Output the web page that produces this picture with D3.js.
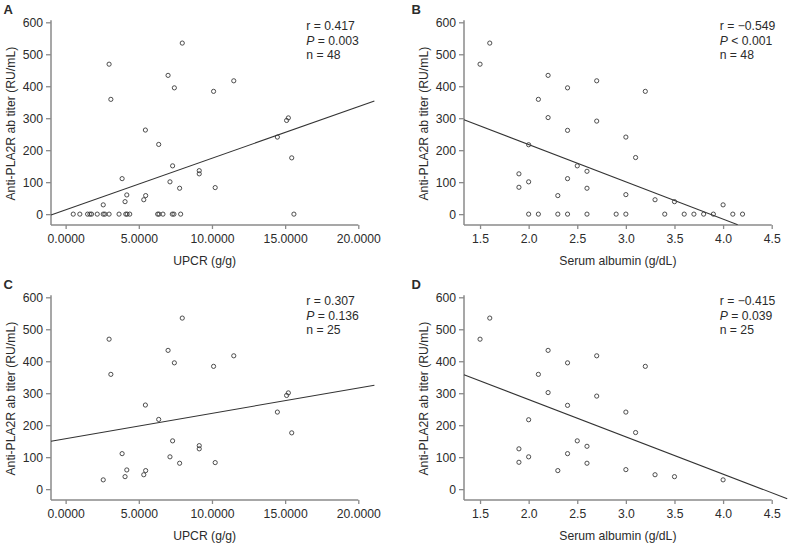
<!DOCTYPE html>
<html>
<head>
<meta charset="utf-8">
<script src="https://cdn.jsdelivr.net/npm/d3@7"></script>
<style>
  html, body { margin: 0; padding: 0; background: #fff; }
  svg { display: block; }
  text { font-family: "Liberation Sans", Arial, Helvetica, sans-serif; fill: #2b2b2b; }
</style>
</head>
<body>
<svg id="chart" width="792" height="544"></svg>
<script>
// ---------------- DATA ----------------
// Panel A / C : UPCR (g/g) vs Anti-PLA2R ab titer (RU/mL)
const upcrPositive  = [2.57, 2.97, 3.09, 3.86, 4.06, 4.18, 5.34, 5.45, 5.47, 6.36, 7.00, 7.13, 7.31, 7.43, 7.79, 7.97, 9.13, 9.13, 10.11, 10.22, 11.49, 14.47, 15.10, 15.22, 15.45];
const titerPositiveA = [29, 469, 359, 111, 39, 60, 45, 263, 58, 218, 434, 101, 151, 395, 81, 535, 136, 126, 384, 83, 417, 241, 293, 301, 176];
const upcrZero = [0.52, 0.97, 1.50, 1.66, 1.77, 2.16, 2.57, 2.68, 2.97, 3.65, 4.11, 4.20, 4.38, 6.29, 6.38, 6.65, 7.29, 7.40, 7.86, 15.60];

// Panel B / D : Serum albumin (g/dL) vs titer
const albPositive   = [1.5, 1.6, 1.9, 1.9, 2.0, 2.0, 2.1, 2.2, 2.2, 2.3, 2.4, 2.4, 2.4, 2.5, 2.6, 2.6, 2.7, 2.7, 3.0, 3.0, 3.1, 3.2, 3.3, 3.5, 4.0];
const titerPositiveB = [469, 535, 126, 84, 217, 101, 359, 434, 302, 58, 395, 262, 111, 151, 134, 81, 417, 291, 61, 241, 177, 384, 45, 39, 29];
const albZero = [2.0, 2.1, 2.3, 2.4, 2.6, 2.9, 3.0, 3.4, 3.6, 3.7, 3.8, 3.9, 4.1, 4.2];

// Fitted regression lines (end points)
const fitA = [{x: -1.0, y: -3}, {x: 21.1, y: 354}];
const fitB = [{x: 1.335, y: 295}, {x: 4.15, y: -33}];
const fitC = [{x: -1.0, y: 150}, {x: 21.1, y: 325}];
const fitD = [{x: 1.335, y: 358}, {x: 4.66, y: -30}];

// Statistics text
const statsA = ["r = 0.417", "P = 0.003", "n = 48"];
const statsB = ["r = \u22120.549", "P < 0.001", "n = 48"];
const statsC = ["r = 0.307", "P = 0.136", "n = 25"];
const statsD = ["r = \u22120.415", "P = 0.039", "n = 25"];

// Ticks
const upcrTicks = [0, 5, 10, 15, 20];
const albTicks = [1.5, 2.0, 2.5, 3.0, 3.5, 4.0, 4.5];
const titerTicks = [0, 100, 200, 300, 400, 500, 600];

const yTitle = "Anti-PLA2R ab titer (RU/mL)";
const xTitleUpcr = "UPCR (g/g)";
const xTitleAlb = "Serum albumin (g/dL)";

// ---------------- BUILD ----------------
const ptsA = upcrPositive.map((x, i) => ({x, y: titerPositiveA[i]}))
  .concat(upcrZero.map(x => ({x, y: 0})));
const ptsC = ptsA.filter(d => d.y > 0);
const ptsB = albPositive.map((x, i) => ({x, y: titerPositiveB[i]}))
  .concat(albZero.map(x => ({x, y: 0})));
const ptsD = ptsB.filter(d => d.y > 0);

const svg = d3.select("#chart");
const axisColor = "#8a8a8a";

function panel(cfg) {
  const g = svg.append("g");
  const x = d3.scaleLinear().domain(cfg.xDomain).range([cfg.left, cfg.right]);
  const y = d3.scaleLinear().domain([-34, 600]).range([cfg.bottom, cfg.top]);

  const clipId = "clip" + cfg.label;
  svg.append("clipPath").attr("id", clipId)
    .append("rect").attr("x", cfg.left - 2).attr("y", cfg.top - 5)
    .attr("width", cfg.clipRight - cfg.left + 2).attr("height", cfg.bottom - cfg.top + 5);

  // Y axis
  const yAx = g.append("g").attr("transform", `translate(${cfg.left},0)`)
    .call(d3.axisLeft(y).tickValues(titerTicks).tickSize(5).tickSizeOuter(0).tickPadding(3));
  yAx.select(".domain").remove();
  yAx.selectAll(".tick line").attr("stroke", axisColor).attr("stroke-width", 1.3);
  yAx.selectAll(".tick text").attr("font-size", 12.2).attr("fill", "#2b2b2b")
    .attr("font-family", "Liberation Sans, Arial, sans-serif");

  // X axis
  const xAx = g.append("g").attr("transform", `translate(0,${cfg.bottom})`)
    .call(d3.axisBottom(x).tickValues(cfg.xTicks).tickFormat(d3.format(cfg.fmt))
      .tickSize(4).tickSizeOuter(0).tickPadding(5));
  xAx.select(".domain").remove();
  xAx.selectAll(".tick line").attr("stroke", axisColor).attr("stroke-width", 1.3);
  xAx.selectAll(".tick text").attr("font-size", 12.2).attr("fill", "#2b2b2b")
    .attr("font-family", "Liberation Sans, Arial, sans-serif");

  // axis lines
  g.append("line").attr("x1", cfg.left).attr("x2", cfg.left)
    .attr("y1", y(600) - 2).attr("y2", cfg.bottom)
    .attr("stroke", axisColor).attr("stroke-width", 1.5);
  g.append("line").attr("x1", cfg.left).attr("x2", cfg.right)
    .attr("y1", cfg.bottom).attr("y2", cfg.bottom)
    .attr("stroke", axisColor).attr("stroke-width", 1.5);

  // regression line
  g.append("path").datum(cfg.fit)
    .attr("clip-path", `url(#${clipId})`)
    .attr("d", d3.line().x(d => x(d.x)).y(d => y(d.y)))
    .attr("fill", "none").attr("stroke", "#333").attr("stroke-width", 1.1);

  // points
  g.selectAll("circle.pt").data(cfg.pts).enter().append("circle")
    .attr("class", "pt")
    .attr("cx", d => x(d.x)).attr("cy", d => y(d.y)).attr("r", 2.1)
    .attr("fill", "none").attr("stroke", "#3a3a3a").attr("stroke-width", 0.9);

  // titles
  g.append("text")
    .attr("transform", `translate(${cfg.left - 40},${(y(600) + cfg.bottom) / 2}) rotate(-90)`)
    .attr("text-anchor", "middle").attr("dy", "0.35em")
    .attr("font-size", 12.2).text(yTitle);
  g.append("text")
    .attr("x", (cfg.left + cfg.right) / 2).attr("y", cfg.bottom + 40)
    .attr("text-anchor", "middle").attr("font-size", 12.2).text(cfg.xTitle);

  // panel letter
  g.append("text").attr("x", cfg.letterX).attr("y", cfg.top - 8)
    .attr("font-size", 13).attr("font-weight", "bold").attr("fill", "#1a1a1a").text(cfg.label);

  // stats
  cfg.stats.forEach((s, i) => {
    const t = g.append("text").attr("x", cfg.right - 52).attr("y", cfg.top + 8 + i * 14.3)
      .attr("font-size", 12.2);
    if (s.startsWith("P")) {
      t.append("tspan").attr("font-style", "italic").text("P");
      t.append("tspan").text(s.slice(1));
    } else {
      t.text(s);
    }
  });
}

panel({label: "A", left: 51, right: 358.3, clipRight: 376, top: 22.3, bottom: 225,
  xDomain: [-1, 20], xTicks: upcrTicks, fmt: ".4f", pts: ptsA, fit: fitA, stats: statsA,
  xTitle: xTitleUpcr, letterX: 3.5});
panel({label: "B", left: 464, right: 771.7, clipRight: 790, top: 22.3, bottom: 225,
  xDomain: [1.335, 4.5], xTicks: albTicks, fmt: ".1f", pts: ptsB, fit: fitB, stats: statsB,
  xTitle: xTitleAlb, letterX: 411.5});
panel({label: "C", left: 51, right: 358.3, clipRight: 376, top: 297.3, bottom: 500,
  xDomain: [-1, 20], xTicks: upcrTicks, fmt: ".4f", pts: ptsC, fit: fitC, stats: statsC,
  xTitle: xTitleUpcr, letterX: 3.5});
panel({label: "D", left: 464, right: 771.7, clipRight: 790, top: 297.3, bottom: 500,
  xDomain: [1.335, 4.5], xTicks: albTicks, fmt: ".1f", pts: ptsD, fit: fitD, stats: statsD,
  xTitle: xTitleAlb, letterX: 411.5});
</script>
</body>
</html>
